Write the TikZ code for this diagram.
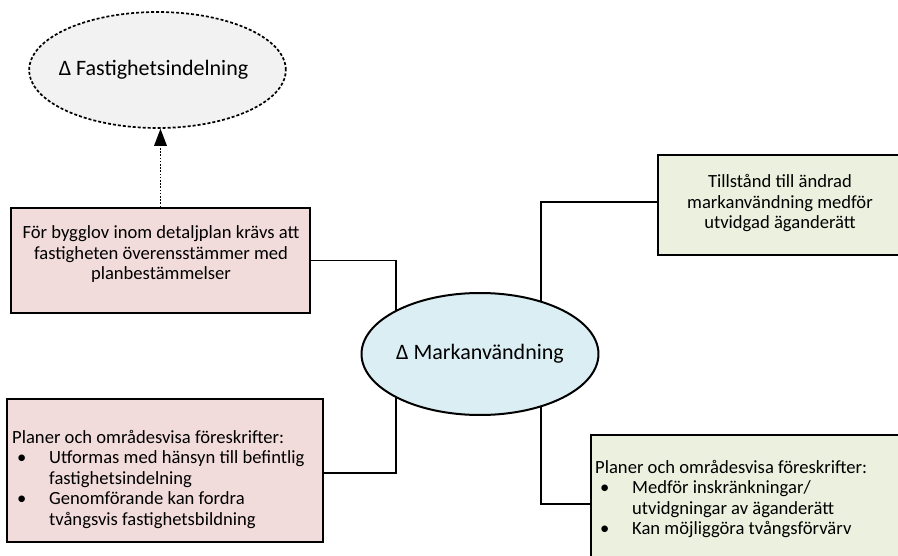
\documentclass[tikz,border=0pt]{standalone}
\usepackage{fontspec}
\setmainfont{Carlito}
\usetikzlibrary{shapes.geometric,arrows.meta,backgrounds}

\definecolor{pinkfill}{HTML}{F2DCDB}
\definecolor{greenfill}{HTML}{EBF1DE}
\definecolor{bluefill}{HTML}{DAEEF3}
\definecolor{greyfill}{HTML}{F2F2F2}

\newcommand\boxfont{\fontsize{18.6}{20.5}\selectfont}
% bullet item with hanging indent; \newline keeps the paragraph open
\newcommand\bitem[1]{\par\hangindent=37pt\hangafter=1\noindent\makebox[37pt][l]{\hspace*{5pt}\textbullet}#1}

\begin{document}
\begin{tikzpicture}[x=1pt,y=-1pt,
  infobox/.style={draw=black,line width=1.6pt,rectangle,inner sep=0pt},
  txt/.style={inner sep=0pt,font=\boxfont},
  conn/.style={draw=black,line width=1.1pt},
  hintline/.style={draw=black,line width=1.6pt,dash pattern=on 1.6pt off 1.6pt},
  hinthead/.style={fill=black,draw=none}
]
\useasboundingbox (0,0) rectangle (898,556);
\clip (0,0) rectangle (898,556);

% ellipses
\node[ellipse,draw=black,line width=1.7pt,dash pattern=on 3pt off 2pt,fill=greyfill,
      minimum width=249pt,minimum height=116pt,inner sep=0pt,
      font=\fontsize{22}{26}\selectfont] (top) at (157.5,70) {\hspace*{-8pt}Δ Fastighetsindelning};
\node[ellipse,draw=black,line width=2pt,fill=bluefill,
      minimum width=220pt,minimum height=122pt,inner sep=0pt,
      font=\fontsize{22}{26}\selectfont] (mid) at (480,354) {Δ Markanvändning};

% boxes
\node[infobox,fill=pinkfill,minimum width=299pt,minimum height=105pt] (b1) at (160.5,260.5) {};
\node[infobox,fill=pinkfill,minimum width=316pt,minimum height=143pt] (b3) at (165,470.5) {};
\node[infobox,fill=greenfill,minimum width=246pt,minimum height=100pt] (b2) at (781,205) {};
\node[infobox,fill=greenfill,minimum width=314pt,minimum height=138pt] (b4) at (748,504) {};

% box texts
\node[txt,anchor=base] (b1t) at (161,239)
  {\parbox[t]{300pt}{\centering För bygglov inom detaljplan krävs att\\fastigheten överensstämmer med\\planbestämmelser}};
\node[txt,anchor=base] (b2t) at (780,188)
  {\parbox[t]{240pt}{\centering Tillstånd till ändrad\\markanvändning medför\\utvidgad äganderätt}};
\node[txt,anchor=base west] (b3t) at (12,443)
  {\parbox[t]{310pt}{\raggedright Planer och områdesvisa föreskrifter:
   \bitem{Utformas med hänsyn till befintlig\newline fastighetsindelning}
   \bitem{Genomförande kan fordra\newline tvångsvis fastighetsbildning}}};
\node[txt,anchor=base west] (b4t) at (595,473)
  {\parbox[t]{300pt}{\raggedright Planer och områdesvisa föreskrifter:
   \bitem{Medför inskränkningar/\newline utvidgningar av äganderätt}
   \bitem{Kan möjliggöra tvångsförvärv}}};

% connectors
\begin{scope}[on background layer]
  \draw[conn] (b1.east) -| ([xshift=-84pt]mid.center);
  \draw[conn] ([yshift=-2.5pt]b3.east) -| ([xshift=-84pt]mid.center);
  \draw[conn] ([yshift=3pt]b2.west) -| ([xshift=61pt]mid.center);
  \draw[conn] (b4.west) -| ([xshift=61pt]mid.center);
\end{scope}

% dotted hint arrow with a solid triangular head
\coordinate (tip) at (b1.north |- top.south);
\draw[hintline] (b1.north) -- ([yshift=-16pt]tip);
\fill[hinthead] (tip) -- ([xshift=-6.5pt,yshift=-17pt]tip) -- ([xshift=6.5pt,yshift=-17pt]tip) -- cycle;
\end{tikzpicture}
\end{document}
